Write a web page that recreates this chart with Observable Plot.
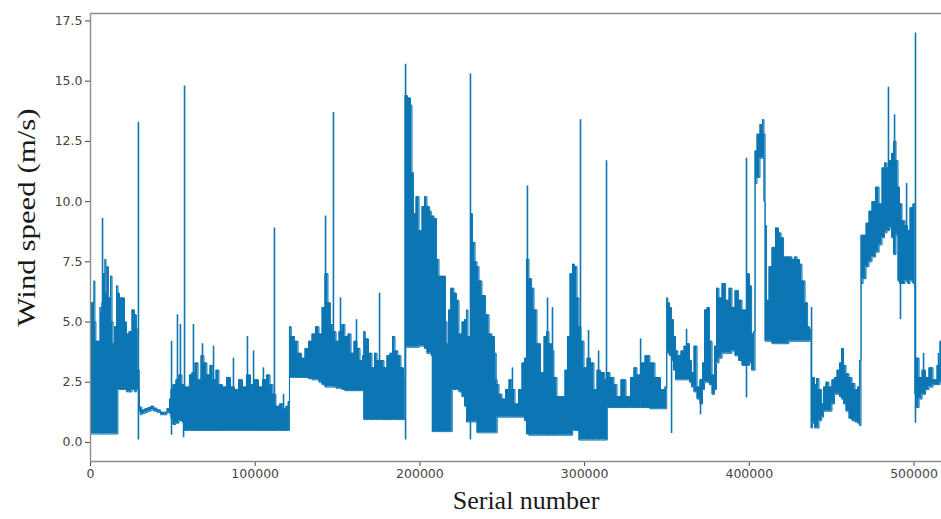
<!DOCTYPE html>
<html>
<head>
<meta charset="utf-8">
<script src="https://cdn.jsdelivr.net/npm/d3@7"></script>
<script src="https://cdn.jsdelivr.net/npm/@observablehq/plot@0.6"></script>
<style>
  body { margin: 0; background: #fff; }
  #chart svg { display: block; }
</style>
</head>
<body>
<div id="chart"></div>
<script>
// Envelope of the dense wind-speed record: serial number, lowest and highest speed (m/s)
const serial = [
  300, 600, 1800, 2400, 3000, 3600, 5500, 6100, 6700, 7300, 8500, 9100, 9700, 10300, 11500, 12800, 13400, 14000, 15200, 16400,
  17000, 18200, 20000, 21300, 22500, 24300, 26100, 27300, 28500, 29100, 30100,
  30400, 32200, 34000, 35800, 37600, 39500, 41300, 43700, 45500, 47400, 48600,
  49200, 51000, 52800, 54600, 56500, 57100, 59500, 60700, 62500, 64400, 66200, 68000, 69800, 71600, 73500, 75300, 77100, 78900,
  81400, 83800, 86200, 88700, 91100, 93500, 95900, 98400, 100800, 103200, 105700, 108100, 109900, 111700, 113500, 116000, 117800, 119600, 120500,
  121100, 122700, 125100, 126900, 129300, 131200, 133600, 135400, 137800, 139700, 141500, 143300, 145100, 146300, 148200, 150000,
  151800, 153600, 155400, 157300, 159100, 160900, 162700, 164600, 165800,
  166100, 167600, 170000, 171800, 173100, 174900, 177300, 179100, 180900, 182800, 184000, 185800, 187600, 189400, 190700,
  191300, 193700, 194900, 195500, 196700, 198600, 200400, 202200, 203400, 205200, 206400, 207400, 207700, 209500, 210700, 212500,
  214900, 216200, 216800, 218000, 219500, 219800, 221600, 222800, 224700, 226500, 227700, 228900, 229500, 230700, 231300, 232600,
  234400, 235000, 236800, 238600, 241100, 242900, 244700, 245900, 246800, 247100, 249000, 250800, 253200, 255000, 256800, 258700,
  261100, 262900, 264100, 265300, 267200, 268400, 270200, 272000, 274500, 276300, 277500, 279300, 280500, 282300, 284200, 287200,
  289000, 290200, 292100, 293300, 294500, 296300, 296900, 298700, 300600, 302400, 304800, 306600, 308500, 310900, 313600, 313900,
  317000, 318800, 320600, 323600, 326700, 329100, 330900, 332700, 335200, 338200, 341200, 344300, 347900, 349700,
  350100, 351000, 352200, 353400, 354600, 355800, 357600, 359500, 361300, 363100, 364300, 365500, 367400, 369200, 371000, 372200,
  373400, 375200, 376500, 378300, 379500, 380700, 382500, 384400, 386800, 388600, 390400, 392300, 394700, 396500, 398300, 399500,
  400800, 402000, 403200, 403800, 405600, 407400, 408600, 409300, 409900, 411100, 412900, 414700, 417100, 418400, 420200, 421400,
  423200, 425000, 426900, 428100, 429900, 431100, 432900, 434800, 436000, 437200, 437500,
  437800, 439000, 440200, 441400, 443300, 444500, 445700, 447500, 449300, 451100, 452400, 454200, 455400, 456600, 457800, 459700,
  461500, 463300, 465100, 466300, 467500, 468200, 470000, 471800, 473600, 475400, 477900, 479700, 481500, 482700, 484500, 485800,
  487000, 488200, 490000, 490600, 491800, 493700, 495500, 496700, 498500, 500300, 500900, 502200, 504000, 505800, 508200, 510000,
  513100, 514900, 516700
];
const windLow = [
  1.2, 0.35, 0.35, 0.35, 0.35, 0.35, 0.35, 0.35, 0.35, 0.35, 0.35, 0.35, 0.35, 0.35, 0.35, 0.35, 0.35, 0.35, 0.35, 0.35,
  2.2, 2.2, 2.2, 2.2, 2.1, 2.1, 2.2, 2.1, 2.2, 2.2, 1.3,
  1.15, 1.2, 1.25, 1.3, 1.35, 1.3, 1.25, 1.15, 1.15, 1.25, 1.2,
  1.0, 0.75, 0.8, 0.9, 0.85, 0.5, 0.5, 0.5, 0.5, 0.5, 0.5, 0.5, 0.5, 0.5, 0.5, 0.5, 0.5, 0.5,
  0.5, 0.5, 0.5, 0.5, 0.5, 0.5, 0.5, 0.5, 0.5, 0.5, 0.5, 0.5, 0.5, 0.5, 0.5, 0.5, 0.5, 0.5, 0.5,
  2.7, 2.7, 2.7, 2.7, 2.7, 2.7, 2.65, 2.6, 2.6, 2.5, 2.4, 2.3, 2.3, 2.3, 2.3, 2.25,
  2.25, 2.2, 2.15, 2.15, 2.15, 2.15, 2.15, 2.15, 2.15,
  0.95, 0.95, 0.95, 0.95, 0.95, 0.95, 0.95, 0.95, 0.95, 0.95, 0.95, 0.95, 0.95, 0.95, 0.95,
  3.95, 3.95, 3.95, 3.95, 3.95, 3.95, 4.0, 4.0, 3.9, 3.7, 3.7, 3.6, 0.45, 0.45, 0.45, 0.45,
  0.45, 0.45, 0.45, 0.45, 0.45, 2.2, 2.2, 2.2, 2.1, 1.9, 1.5, 0.85, 0.85, 0.85, 0.85, 0.85,
  0.85, 0.4, 0.4, 0.4, 0.4, 0.4, 0.4, 0.4, 0.4, 1.05, 1.05, 1.05, 1.05, 1.05, 1.05, 1.05,
  1.05, 1.05, 0.9, 0.35, 0.3, 0.3, 0.3, 0.3, 0.3, 0.3, 0.3, 0.3, 0.3, 0.3, 0.3, 0.3,
  0.3, 0.3, 0.3, 0.5, 0.5, 0.5, 0.1, 0.1, 0.1, 0.1, 0.1, 0.1, 0.1, 0.1, 0.1, 1.45,
  1.45, 1.45, 1.45, 1.45, 1.45, 1.45, 1.45, 1.45, 1.45, 1.45, 1.4, 1.4, 1.4, 1.4,
  3.8, 3.7, 3.6, 3.4, 3.0, 2.6, 2.6, 2.6, 2.6, 2.6, 2.5, 2.3, 2.1, 1.8, 1.6, 2.2,
  2.5, 2.5, 2.4, 2.0, 2.2, 3.3, 3.5, 3.7, 3.7, 3.7, 3.8, 3.6, 3.4, 3.2, 3.2, 3.2,
  3.3, 3.0, 3.0, 10.75, 11.0, 11.8, 11.8, 10.0, 4.2, 4.2, 4.2, 4.1, 4.1, 4.1, 4.1, 4.1,
  4.1, 4.2, 4.2, 4.2, 4.2, 4.2, 4.2, 4.2, 4.2, 4.2, 4.2,
  0.6, 0.8, 0.6, 0.6, 0.9, 1.05, 1.3, 1.3, 1.3, 1.6, 2.0, 2.0, 1.9, 1.8, 1.6, 1.3,
  1.0, 0.9, 0.85, 0.8, 0.7, 6.6, 6.8, 7.3, 7.5, 7.7, 7.9, 8.2, 8.5, 8.7, 8.8, 8.9,
  8.5, 7.8, 8.6, 6.7, 6.6, 6.6, 6.7, 6.6, 6.7, 6.6, 2.0, 1.45, 1.8, 2.0, 2.2, 2.3,
  2.4, 2.4, 2.5
];
const windHigh = [
  5.6, 5.8, 5.8, 6.7, 5.0, 4.2, 4.2, 5.6, 5.4, 5.8, 7.0, 7.6, 6.2, 7.3, 6.0, 6.9, 5.0, 4.1, 4.8, 6.5,
  6.2, 6.0, 6.0, 5.0, 4.5, 4.6, 5.5, 5.3, 4.7, 3.0, 1.5,
  1.45, 1.35, 1.4, 1.45, 1.5, 1.42, 1.35, 1.25, 1.25, 1.4, 1.8,
  2.2, 2.4, 2.6, 2.8, 2.4, 2.3, 2.3, 2.8, 2.9, 3.3, 2.6, 3.6, 3.3, 2.8, 3.2, 2.6, 3.0, 2.4,
  2.3, 2.7, 2.3, 2.2, 2.6, 2.3, 2.8, 2.4, 2.6, 2.3, 2.6, 2.8, 2.4, 2.0, 1.5, 1.6, 1.4, 1.5, 1.7,
  4.8, 4.4, 4.2, 3.7, 3.5, 3.9, 4.2, 4.5, 4.8, 4.5, 5.6, 7.0, 5.8, 4.9, 4.6, 4.2,
  4.6, 4.9, 4.4, 4.5, 3.7, 4.2, 3.9, 3.4, 3.6,
  4.6, 4.3, 3.7, 3.1, 3.7, 3.4, 3.4, 3.1, 3.6, 3.7, 4.4, 3.8, 3.6, 3.1, 2.6,
  14.4, 14.3, 14.0, 11.2, 9.5, 10.2, 8.8, 9.8, 10.2, 9.8, 9.6, 9.4, 9.4, 9.3, 7.6, 6.9,
  6.9, 5.0, 4.1, 5.5, 6.4, 6.4, 6.2, 5.9, 4.5, 5.0, 5.1, 5.5, 4.4, 4.4, 9.5, 8.3,
  7.5, 7.3, 6.7, 6.1, 5.3, 4.5, 4.4, 3.7, 2.6, 2.4, 2.0, 1.8, 2.2, 2.6, 2.2, 1.6,
  2.2, 3.3, 3.5, 7.6, 6.8, 6.4, 5.5, 4.1, 2.9, 4.4, 4.6, 4.1, 3.8, 2.7, 1.9, 1.9,
  3.0, 4.4, 7.0, 7.4, 7.3, 6.0, 4.8, 4.2, 3.1, 3.5, 3.3, 2.2, 3.0, 2.9, 2.6, 2.9,
  2.7, 2.4, 1.9, 2.6, 1.9, 2.7, 3.1, 2.8, 3.3, 3.6, 3.3, 2.7, 2.2, 2.3,
  6.0, 5.8, 5.6, 5.1, 4.4, 3.8, 3.6, 3.8, 4.0, 4.1, 3.4, 2.9, 4.0, 2.3, 2.6, 3.3,
  5.5, 5.6, 4.2, 2.8, 4.0, 6.4, 6.0, 6.6, 5.9, 6.4, 5.6, 6.3, 5.9, 5.5, 5.5, 7.0,
  6.5, 4.5, 4.6, 12.1, 12.8, 13.2, 13.4, 12.8, 9.0, 5.9, 7.3, 8.1, 8.9, 8.7, 8.5, 7.7,
  7.7, 7.7, 7.6, 7.7, 7.6, 7.4, 6.7, 5.8, 4.8, 4.7, 4.6,
  2.5, 2.7, 2.4, 2.65, 2.2, 1.6, 2.3, 2.5, 2.3, 2.6, 2.7, 3.0, 3.3, 3.9, 3.2, 2.85,
  2.7, 2.45, 2.2, 2.3, 3.4, 8.6, 8.6, 9.1, 9.6, 10.0, 10.6, 9.9, 11.4, 11.6, 11.4, 11.7,
  12.0, 12.5, 11.7, 10.6, 9.9, 9.2, 9.0, 8.8, 9.75, 9.9, 3.5, 3.5, 2.7, 3.0, 2.7, 3.1,
  2.6, 3.2, 4.2
];

// Isolated gusts and drops: serial number, bottom and top of each stroke (m/s)
const spikeSerial = [
  7300, 29100, 49200, 52800, 54600, 56500, 57100, 62500, 68000, 74700, 86800, 95300, 99000, 105000, 111700, 117200,
  142700, 147500, 151800, 161500, 175500, 191300, 230700, 256200, 265300, 277500, 280500, 297500, 302400, 308500,
  313300, 334000, 352800, 361900, 370400, 398300, 437800, 484500, 488200, 491800, 495500, 500900, 505800, 514900
];
const spikeLow = [
  0.35, 0.1, 0.3, 0.8, 0.9, 0.2, 0.5, 0.5, 0.5, 0.5, 0.5, 0.5, 0.5, 0.5, 0.5, 0.5,
  2.3, 2.3, 2.25, 2.15, 0.95, 0.1, 0.1, 1.05, 0.35, 0.3, 0.3, 0.1, 0.1, 0.1,
  0.1, 1.45, 0.37, 2.6, 1.15, 1.85, 0.58, 8.8, 7.8, 5.1, 6.7, 0.8, 2.0, 2.4
];
const spikeHigh = [
  9.3, 13.3, 4.2, 5.3, 4.9, 2.4, 14.8, 4.9, 4.1, 4.0, 3.5, 4.4, 3.8, 3.1, 8.9, 2.0,
  9.4, 13.7, 6.0, 5.1, 6.2, 15.7, 15.3, 3.1, 10.65, 6.0, 5.6, 13.4, 4.65, 3.8,
  11.7, 4.3, 5.0, 4.7, 2.6, 11.8, 5.6, 14.75, 13.6, 9.9, 10.75, 17.0, 3.7, 3.7
];

const serialTicks = [0, 100000, 200000, 300000, 400000, 500000];
const speedTicks = [0, 2.5, 5, 7.5, 10, 12.5, 15, 17.5];
const xLabel = "Serial number";
const yLabel = "Wind speed (m/s)";

const band = serial.map((s, i) => ({s, lo: windLow[i], hi: windHigh[i]}));
const spikes = spikeSerial.map((s, i) => ({s, lo: spikeLow[i], hi: spikeHigh[i]}));

const xDomain = [0, 516700];
const yDomain = [-0.79, 17.81];
const blue = "#0c76b4";
const spine = "#8e8e8e";
const serif = "'Liberation Serif', 'DejaVu Serif', serif";

const chart = Plot.plot({
  width: 941,
  height: 519,
  marginLeft: 90,
  marginRight: 0,
  marginTop: 13,
  marginBottom: 58,
  style: {background: "#fff", fontFamily: "'DejaVu Sans', sans-serif", overflow: "visible"},
  x: {domain: xDomain},
  y: {domain: yDomain},
  marks: [
    Plot.areaY(band, {x: "s", y1: "lo", y2: "hi", fill: blue, curve: "step", clip: true}),
    Plot.line(band, {x: "s", y: "hi", stroke: blue, strokeWidth: 1, curve: "step", clip: true}),
    Plot.line(band, {x: "s", y: "lo", stroke: blue, strokeWidth: 1, curve: "step", clip: true}),
    Plot.ruleX(spikes, {x: "s", y1: "lo", y2: "hi", stroke: blue, strokeWidth: 1.6, clip: true}),
    Plot.axisX({ticks: serialTicks, tickFormat: d => String(d), tickSize: 5, tickPadding: 3, fontSize: 12.5, color: "#444", label: null}),
    Plot.axisY({ticks: speedTicks, tickFormat: d3.format(".1f"), tickSize: 5, tickPadding: 3, fontSize: 12.5, color: "#444", label: null}),
    Plot.ruleX([xDomain[0]], {stroke: spine, strokeWidth: 1.4}),
    Plot.ruleY([yDomain[0]], {stroke: spine, strokeWidth: 1.4}),
    Plot.ruleY([yDomain[1]], {stroke: spine, strokeWidth: 1.4}),
    Plot.text([yLabel], {text: d => d, frameAnchor: "left", textAnchor: "middle", dx: -64, dy: -20, rotate: -90, fontSize: 25, fontFamily: serif, fill: "#1a1a1a", className: "ylabel"}),
    Plot.text([xLabel], {text: d => d, frameAnchor: "bottom", textAnchor: "middle", dx: 10, dy: 47, fontSize: 26, fontFamily: serif, fill: "#1a1a1a"})
  ]
});

// the vertical title is set slightly elongated, as in the printed figure
d3.select(chart).select(".ylabel text")
  .attr("textLength", 218)
  .attr("lengthAdjust", "spacingAndGlyphs");

document.getElementById("chart").append(chart);
</script>
</body>
</html>
